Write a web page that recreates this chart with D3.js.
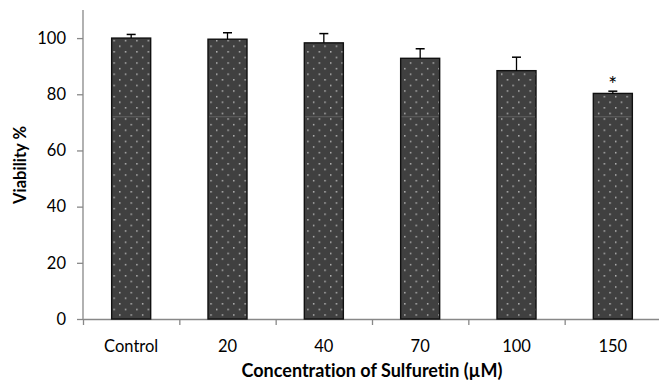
<!DOCTYPE html>
<meta charset="utf-8">
<style>
body { margin: 0; background: #fff; }
text { font-family: Lato, "Open Sans", sans-serif; fill: #000; font-variant-ligatures: none; }
.tick text { font-size: 16.5px; }
.axis path, .axis line { stroke: #888; stroke-width: 1.3px; }
</style>
<body>
<script src="https://cdn.jsdelivr.net/npm/d3@7"></script>
<script>

// data
var categories = ["Control", "20", "40", "70", "100", "150"];
var viability = [100, 99.6, 98.3, 92.8, 88.4, 80.3];
var errorTop = [101.3, 101.9, 101.6, 96.2, 93.2, 81.1];
var significant = [false, false, false, false, false, true];
var yTicks = [0, 20, 40, 60, 80, 100];
var seamLevel = 72; // faint light seam visible inside every bar

var data = categories.map(function(c, i) {
  return { cat: c, v: viability[i], e: errorTop[i], sig: significant[i] };
});

var margin = {top: 10, right: 0, bottom: 63, left: 83},
    width = 661 - margin.left - margin.right,
    height = 382 - margin.top - margin.bottom;

var svg = d3.select("body").append("svg")
    .attr("width", 659)
    .attr("height", 382);

// dotted fill for the bars
var defs = svg.append("defs");
var pat = defs.append("pattern")
    .attr("id", "dots")
    .attr("patternUnits", "userSpaceOnUse")
    .attr("width", 11.4)
    .attr("height", 11.2);
pat.append("rect").attr("width", 11.4).attr("height", 11.2).attr("fill", "#404040");
pat.append("rect").attr("x", 2).attr("y", 2).attr("width", 1.3).attr("height", 1.3).attr("fill", "#d8d8d8");
pat.append("rect").attr("x", 7.7).attr("y", 7.6).attr("width", 1.3).attr("height", 1.3).attr("fill", "#d8d8d8");

var g = svg.append("g")
    .attr("transform", "translate(" + margin.left + "," + margin.top + ")");

var x = d3.scaleBand().domain(categories).range([0, width]).paddingInner(0.595).paddingOuter(0.2975);
var y = d3.scaleLinear().domain([0, 110]).range([height, 0]);

// y axis
var yAxis = g.append("g").attr("class", "axis")
    .call(d3.axisLeft(y).tickValues(yTicks).tickSize(6).tickSizeOuter(0).tickPadding(11));
yAxis.select(".domain").attr("d", "M0," + y(110) + "V" + y(0));

// x axis with ticks between categories
var xb = d3.scaleLinear().domain([0, categories.length]).range([0, width]);
var xAxis = g.append("g").attr("class", "axis")
    .attr("transform", "translate(0," + height + ")")
    .call(d3.axisBottom(xb).tickValues(d3.range(categories.length + 1)).tickSize(6).tickSizeOuter(0).tickFormat(""));
xAxis.selectAll(".cat")
    .data(categories).enter()
    .append("text")
    .attr("class", "cat")
    .attr("x", function(d) { return x(d) + x.bandwidth() / 2; })
    .attr("y", 33)
    .attr("text-anchor", "middle")
    .style("font-size", "16.5px")
    .text(function(d) { return d; });

// bars
g.selectAll(".bar")
    .data(data).enter()
    .append("rect")
    .attr("class", "bar")
    .attr("x", function(d) { return x(d.cat); })
    .attr("y", function(d) { return y(d.v); })
    .attr("width", x.bandwidth())
    .attr("height", function(d) { return y(0) - y(d.v); })
    .attr("fill", "url(#dots)")
    .attr("stroke", "#111")
    .attr("stroke-width", 1.4);

g.selectAll(".seam")
    .data(data).enter()
    .append("line")
    .attr("x1", function(d) { return x(d.cat) + 1; })
    .attr("x2", function(d) { return x(d.cat) + x.bandwidth() - 1; })
    .attr("y1", y(seamLevel))
    .attr("y2", y(seamLevel))
    .attr("stroke", "#6a6a6a")
    .attr("stroke-width", 0.8);

// error bars (upper only)
var err = g.selectAll(".err").data(data).enter().append("g");
err.append("line")
    .attr("x1", function(d) { return x(d.cat) + x.bandwidth() / 2; })
    .attr("x2", function(d) { return x(d.cat) + x.bandwidth() / 2; })
    .attr("y1", function(d) { return y(d.v); })
    .attr("y2", function(d) { return y(d.e); })
    .attr("stroke", "#000").attr("stroke-width", 1.3);
err.append("line")
    .attr("x1", function(d) { return x(d.cat) + x.bandwidth() / 2 - 4.5; })
    .attr("x2", function(d) { return x(d.cat) + x.bandwidth() / 2 + 4.5; })
    .attr("y1", function(d) { return y(d.e); })
    .attr("y2", function(d) { return y(d.e); })
    .attr("stroke", "#000").attr("stroke-width", 1.5);

// significance star
g.selectAll(".star")
    .data(data.filter(function(d) { return d.sig; })).enter()
    .append("text")
    .attr("x", function(d) { return x(d.cat) + x.bandwidth() / 2; })
    .attr("y", function(d) { return y(d.e) + 1; })
    .attr("text-anchor", "middle")
    .style("font-size", "21px")
    .text("*");

// axis titles
svg.append("text")
    .attr("x", 372)
    .attr("y", 377)
    .attr("text-anchor", "middle")
    .style("font-size", "18px")
    .style("font-weight", "bold")
    .text("Concentration of Sulfuretin (µM)");

svg.append("text")
    .attr("transform", "translate(26,165) rotate(-90)")
    .attr("text-anchor", "middle")
    .style("font-size", "16.5px")
    .style("font-weight", "bold")
    .text("Viability %");

</script>
</body>
